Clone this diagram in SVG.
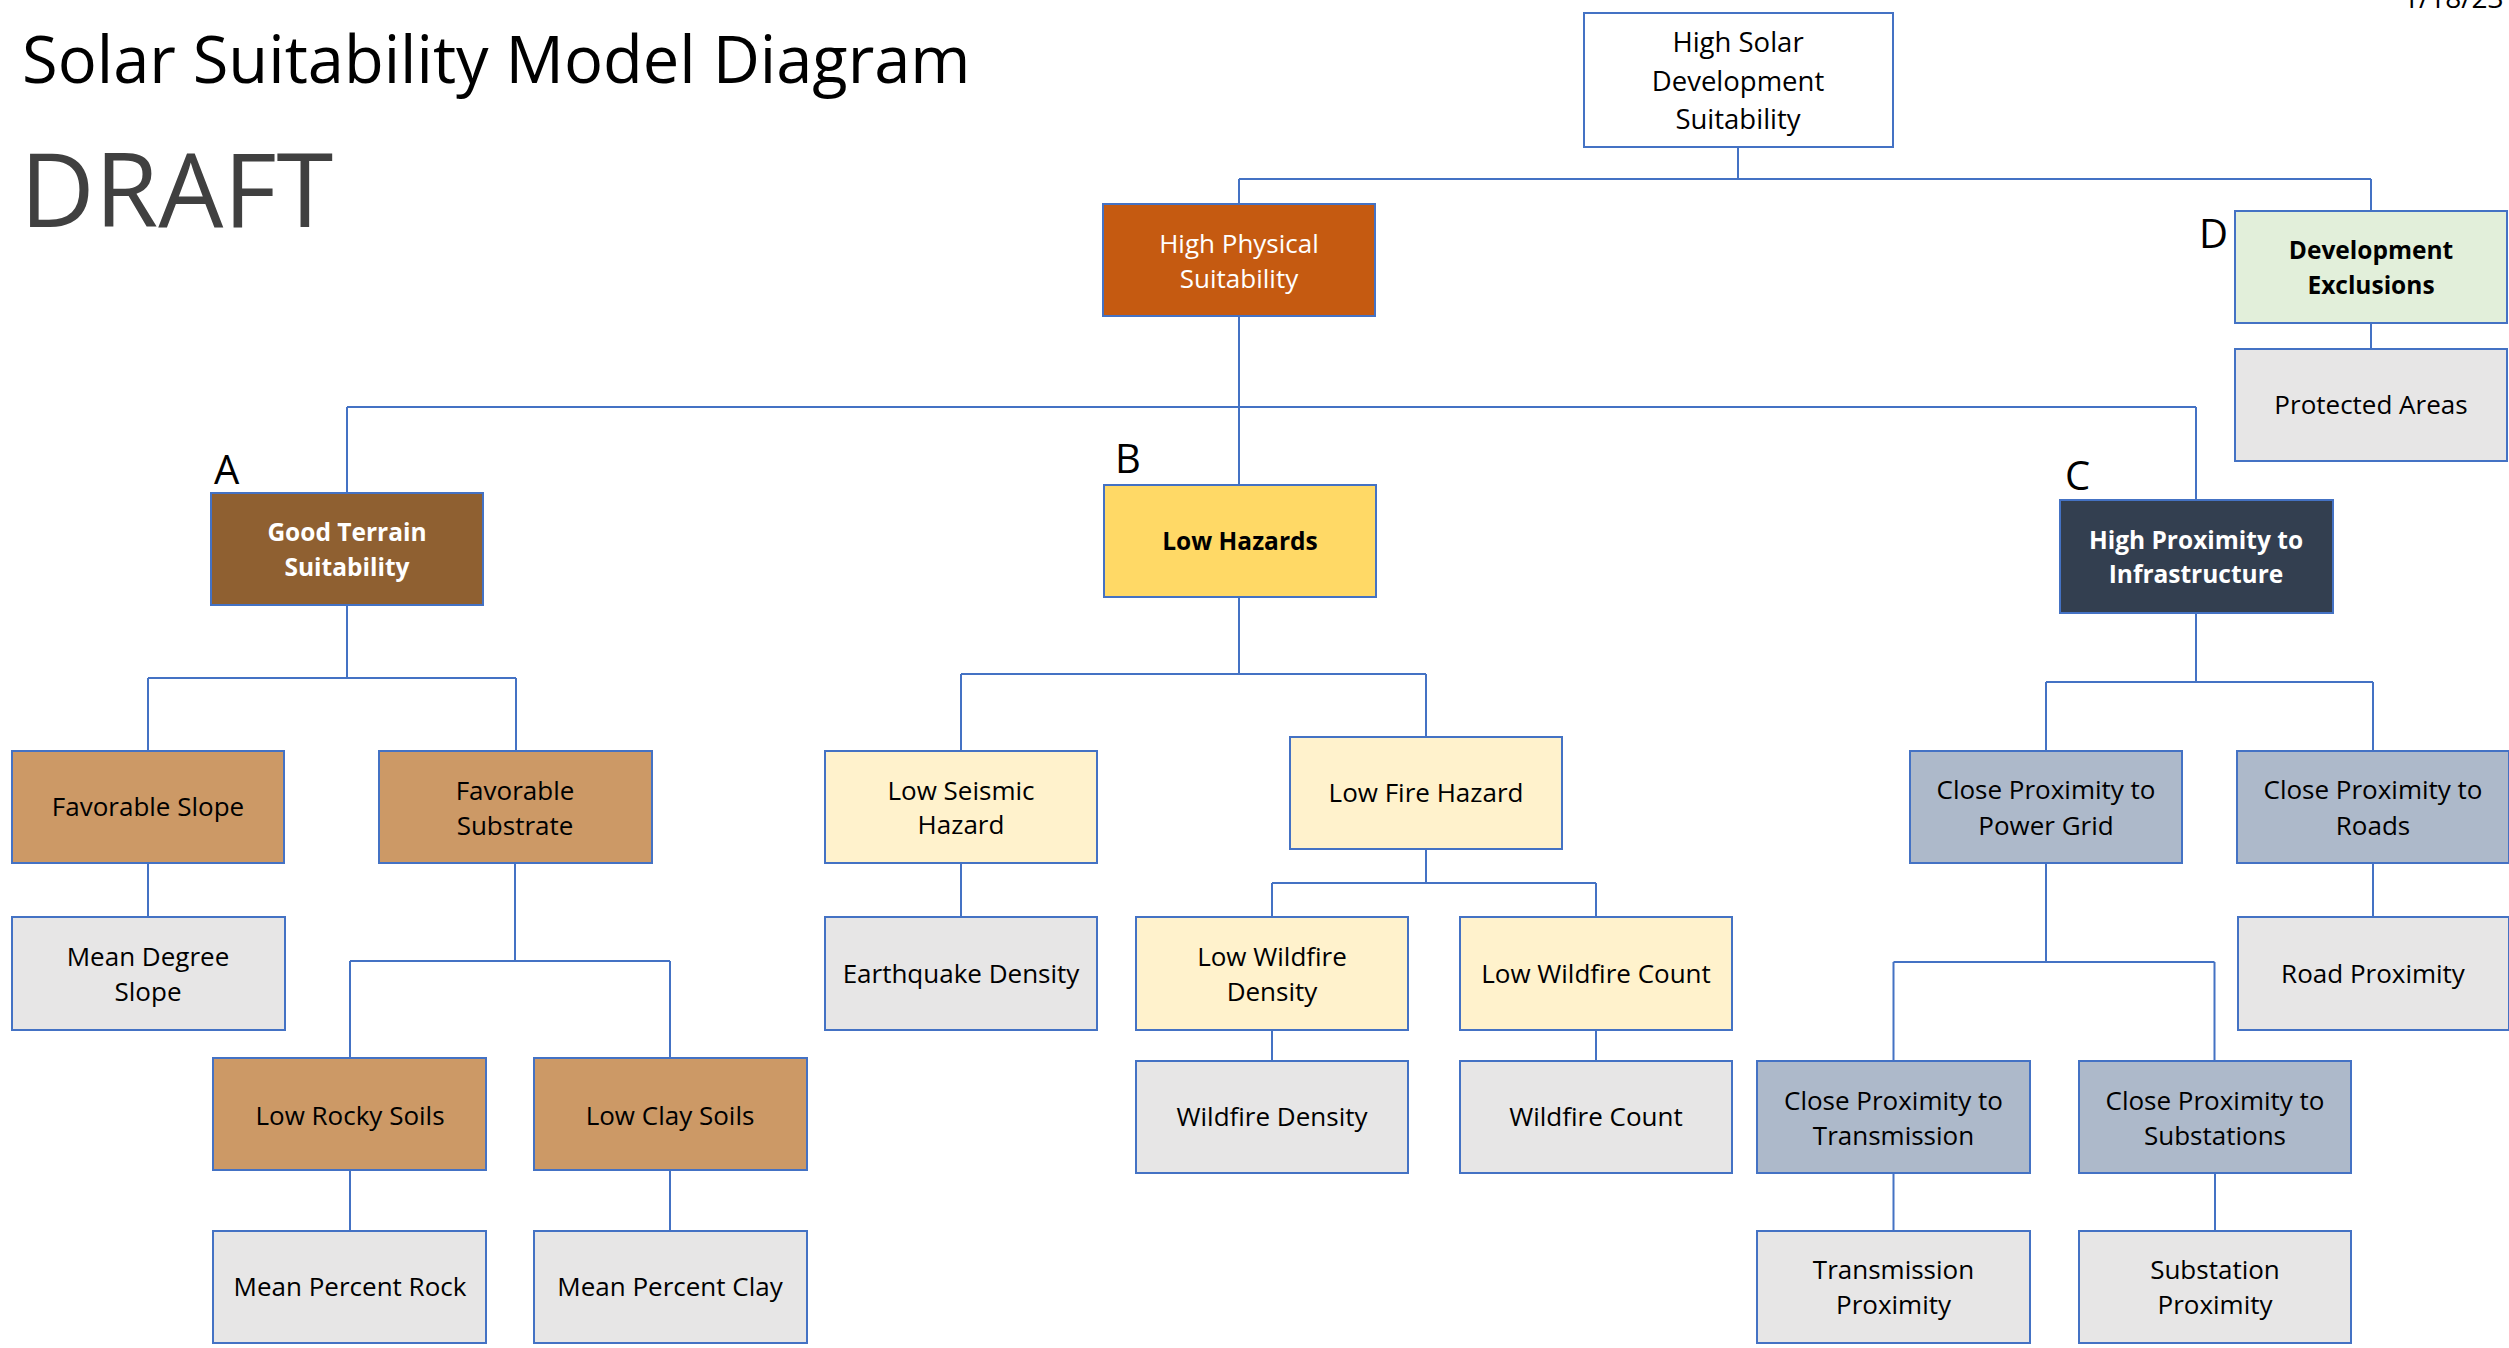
<svg xmlns="http://www.w3.org/2000/svg" width="2509" height="1348" viewBox="0 0 2509 1348">
<style>
.n rect{stroke:#4472C4;stroke-width:2}
.n text{font-family:"Open Sans","Noto Sans","Liberation Sans",sans-serif;font-size:26px;text-anchor:middle;fill:#000}
.n text.w{fill:#fff}
.n text.b{font-weight:bold;font-size:24.5px}
.n text.r{font-size:27.5px}
.c{fill:none;stroke:#4472C4;stroke-width:2}
.lbl{font-family:"Open Sans","Noto Sans","Liberation Sans",sans-serif;font-size:40px;fill:#000}
.wh{fill:#fff}.org{fill:#C55A11}.grn{fill:#E2EFDA}.gry{fill:#E7E6E6}.brn{fill:#8F6031}.tan{fill:#CC9966}
.yel{fill:#FFD966}.lyl{fill:#FFF2CC}.nav{fill:#333F50}.blu{fill:#ADB9CA}
</style>
<rect width="2509" height="1348" fill="#fff"/>
<text x="22" y="83" font-family="Open Sans, Noto Sans, Liberation Sans, sans-serif" font-size="65" fill="#000">Solar Suitability Model Diagram</text>
<text x="20" y="227" font-family="Open Sans, Noto Sans, Liberation Sans, sans-serif" font-size="103" fill="#404040">DRAFT</text>
<text x="2403" y="8" font-family="Open Sans, Noto Sans, Liberation Sans, sans-serif" font-size="28" fill="#000">1/18/23</text>
<text class="lbl" x="214" y="484">A</text>
<text class="lbl" x="1115" y="473">B</text>
<text class="lbl" x="2065" y="490">C</text>
<text class="lbl" x="2199" y="248">D</text>
<g id="connectors">
<path class="c" d="M1738,147V179M1239,179H2371M1239,179V204M2371,179V211"/>
<path class="c" d="M2371,323V349"/>
<path class="c" d="M1239,316V407M347,407H2196M347,407V493M1239,407V485M2196,407V500"/>
<path class="c" d="M347,605V678M148,678H516M148,678V751M516,678V751"/>
<path class="c" d="M148,863V917"/>
<path class="c" d="M515,863V961M350,961H670M350,961V1058M670,961V1058"/>
<path class="c" d="M350,1170V1231M670,1170V1231"/>
<path class="c" d="M1239,597V674M961,674H1426M961,674V751M1426,674V737"/>
<path class="c" d="M961,863V917"/>
<path class="c" d="M1426,849V883M1272,883H1596M1272,883V917M1596,883V917"/>
<path class="c" d="M1272,1030V1061M1596,1030V1061"/>
<path class="c" d="M2196,613V682M2046,682H2373M2046,682V751M2373,682V751"/>
<path class="c" d="M2046,863V962M1893.5,962H2214.5M1893.5,962V1061M2214.5,962V1061"/>
<path class="c" d="M2373,863V917"/>
<path class="c" d="M1893.5,1173V1231M2215,1173V1231"/>
</g>
<g id="root" class="n"><rect class="wh" x="1584" y="13" width="309" height="134"/><text class="r" x="1738" y="52">High Solar</text><text class="r" x="1738" y="91">Development</text><text class="r" x="1738" y="129">Suitability</text></g>
<g id="high-physical" class="n"><rect class="org" x="1103" y="204" width="272" height="112"/><text class="w" x="1239" y="253">High Physical</text><text class="w" x="1239" y="288">Suitability</text></g>
<g id="dev-exclusions" class="n"><rect class="grn" x="2235" y="211" width="272" height="112"/><text class="b" x="2371" y="259">Development</text><text class="b" x="2371" y="294">Exclusions</text></g>
<g id="protected" class="n"><rect class="gry" x="2235" y="349" width="272" height="112"/><text x="2371" y="414">Protected Areas</text></g>
<g id="terrain" class="n"><rect class="brn" x="211" y="493" width="272" height="112"/><text class="w b" x="347" y="541">Good Terrain</text><text class="w b" x="347" y="576">Suitability</text></g>
<g id="hazards" class="n"><rect class="yel" x="1104" y="485" width="272" height="112"/><text class="b" x="1240" y="550">Low Hazards</text></g>
<g id="infra" class="n"><rect class="nav" x="2060" y="500" width="273" height="113"/><text class="w b" x="2196" y="549">High Proximity to</text><text class="w b" x="2196" y="583">Infrastructure</text></g>
<g id="slope" class="n"><rect class="tan" x="12" y="751" width="272" height="112"/><text x="148" y="816">Favorable Slope</text></g>
<g id="substrate" class="n"><rect class="tan" x="379" y="751" width="273" height="112"/><text x="515" y="800">Favorable</text><text x="515" y="835">Substrate</text></g>
<g id="seismic" class="n"><rect class="lyl" x="825" y="751" width="272" height="112"/><text x="961" y="800">Low Seismic</text><text x="961" y="834">Hazard</text></g>
<g id="fire" class="n"><rect class="lyl" x="1290" y="737" width="272" height="112"/><text x="1426" y="802">Low Fire Hazard</text></g>
<g id="power-grid" class="n"><rect class="blu" x="1910" y="751" width="272" height="112"/><text x="2046" y="799">Close Proximity to</text><text x="2046" y="835">Power Grid</text></g>
<g id="roads" class="n"><rect class="blu" x="2237" y="751" width="272" height="112"/><text x="2373" y="799">Close Proximity to</text><text x="2373" y="835">Roads</text></g>
<g id="mean-slope" class="n"><rect class="gry" x="12" y="917" width="273" height="113"/><text x="148" y="966">Mean Degree</text><text x="148" y="1001">Slope</text></g>
<g id="earthquake" class="n"><rect class="gry" x="825" y="917" width="272" height="113"/><text x="961" y="983">Earthquake Density</text></g>
<g id="low-wf-density" class="n"><rect class="lyl" x="1136" y="917" width="272" height="113"/><text x="1272" y="966">Low Wildfire</text><text x="1272" y="1001">Density</text></g>
<g id="low-wf-count" class="n"><rect class="lyl" x="1460" y="917" width="272" height="113"/><text x="1596" y="983">Low Wildfire Count</text></g>
<g id="road-prox" class="n"><rect class="gry" x="2238" y="917" width="271" height="113"/><text x="2373" y="983">Road Proximity</text></g>
<g id="rocky" class="n"><rect class="tan" x="213" y="1058" width="273" height="112"/><text x="350" y="1125">Low Rocky Soils</text></g>
<g id="clay" class="n"><rect class="tan" x="534" y="1058" width="273" height="112"/><text x="670" y="1125">Low Clay Soils</text></g>
<g id="wf-density" class="n"><rect class="gry" x="1136" y="1061" width="272" height="112"/><text x="1272" y="1126">Wildfire Density</text></g>
<g id="wf-count" class="n"><rect class="gry" x="1460" y="1061" width="272" height="112"/><text x="1596" y="1126">Wildfire Count</text></g>
<g id="transmission" class="n"><rect class="blu" x="1757" y="1061" width="273" height="112"/><text x="1893.5" y="1110">Close Proximity to</text><text x="1893.5" y="1145">Transmission</text></g>
<g id="substations" class="n"><rect class="blu" x="2079" y="1061" width="272" height="112"/><text x="2215" y="1110">Close Proximity to</text><text x="2215" y="1145">Substations</text></g>
<g id="mean-rock" class="n"><rect class="gry" x="213" y="1231" width="273" height="112"/><text x="350" y="1296">Mean Percent Rock</text></g>
<g id="mean-clay" class="n"><rect class="gry" x="534" y="1231" width="273" height="112"/><text x="670" y="1296">Mean Percent Clay</text></g>
<g id="trans-prox" class="n"><rect class="gry" x="1757" y="1231" width="273" height="112"/><text x="1893.5" y="1279">Transmission</text><text x="1893.5" y="1314">Proximity</text></g>
<g id="subs-prox" class="n"><rect class="gry" x="2079" y="1231" width="272" height="112"/><text x="2215" y="1279">Substation</text><text x="2215" y="1314">Proximity</text></g>
</svg>
